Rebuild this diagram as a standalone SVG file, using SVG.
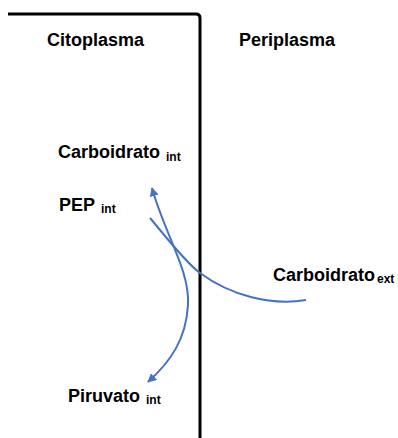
<svg xmlns="http://www.w3.org/2000/svg" width="398" height="438" viewBox="0 0 398 438">
<style>
text{font-family:"Liberation Sans",Arial,sans-serif;font-weight:bold;fill:#000}
.lbl{font-size:18px}
.sub{font-size:12px}
.flow{fill:none;stroke:#4472C4;stroke-width:2}
</style>
<defs>
<marker id="ah" viewBox="0 0 10 10" refX="9" refY="5" markerWidth="9" markerHeight="9" markerUnits="userSpaceOnUse" orient="auto-start-reverse">
<path d="M0,0 L10,5 L0,10 Z" fill="#4472C4"/>
</marker>
</defs>
<rect width="398" height="438" fill="#fff"/>
<g id="membrane">
<path d="M8,14 H196 Q200,14 200,18 V438" fill="none" stroke="#000" stroke-width="3"/>
</g>
<g id="citoplasma"><text class="lbl" x="47" y="46">Citoplasma</text></g>
<g id="periplasma"><text class="lbl" x="239" y="46">Periplasma</text></g>
<g id="carboidrato-int"><text class="lbl" x="58" y="158">Carboidrato</text><text class="sub" x="166" y="161">int</text></g>
<g id="pep-int"><text class="lbl" x="59" y="211">PEP</text><text class="sub" x="101" y="213">int</text></g>
<g id="piruvato-int"><text class="lbl" x="68" y="402">Piruvato</text><text class="sub" x="146" y="404">int</text></g>
<g id="carboidrato-ext"><text class="lbl" x="273" y="281">Carboidrato</text><text class="sub" x="377" y="283">ext</text></g>
<g id="connectors">
<path class="flow" d="M306,300 C270,306 230,295 200,273 C185,262 162,232 150,218"/>
<path class="flow" d="M152,188 C165,235 190,270 188,305 C186,340 170,362 148,382" marker-start="url(#ah)" marker-end="url(#ah)"/>
</g>
</svg>
